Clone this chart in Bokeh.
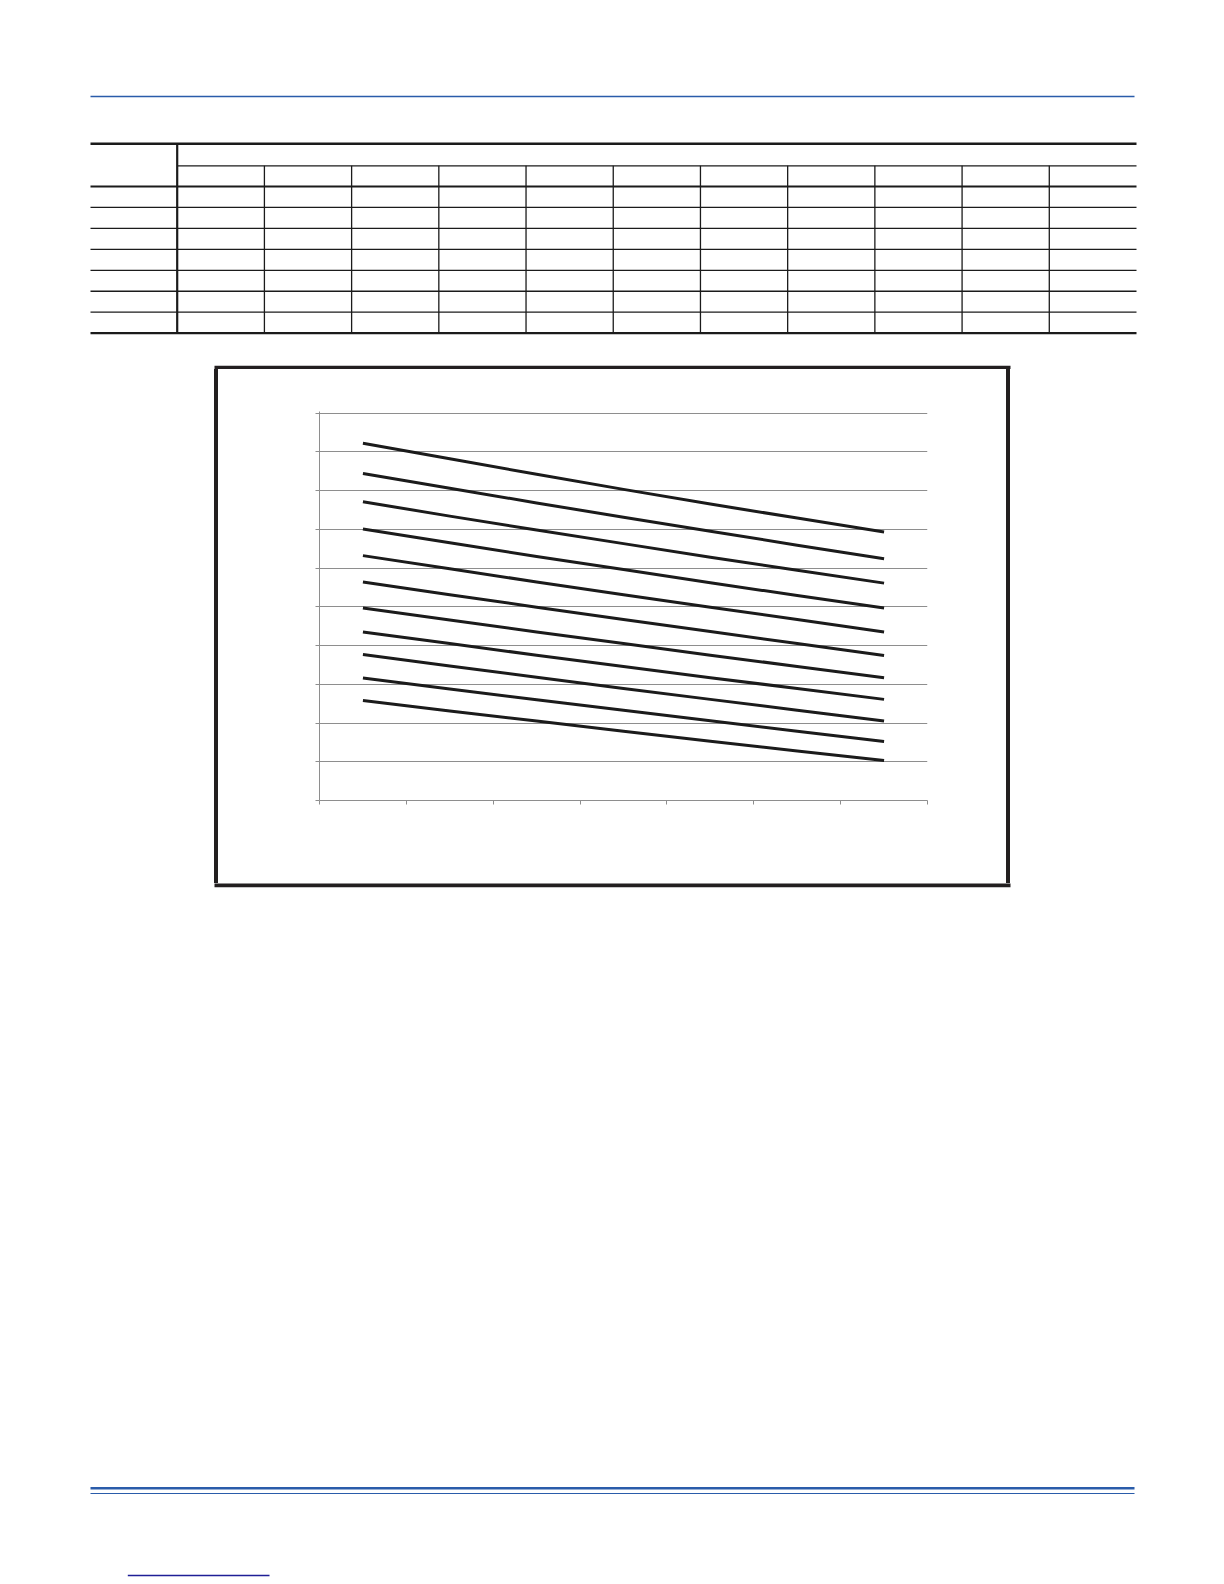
from bokeh.plotting import figure
from bokeh.layouts import column, row
from bokeh.models import Range1d, FixedTicker, Spacer, CustomJSTickFormatter
from bokeh.embed import file_html
from bokeh.resources import INLINE

# ---------------- data ----------------
categories = ["c1", "c2", "c3", "c4", "c5", "c6", "c7"]
y_ticks = [0.0, 0.1, 0.2, 0.3, 0.4, 0.5, 0.6, 0.7, 0.8, 0.9, 1.0]

curve_01 = [0.922, 0.882, 0.842, 0.803, 0.765, 0.729, 0.693]
curve_02 = [0.844, 0.806, 0.768, 0.731, 0.695, 0.659, 0.624]
curve_03 = [0.771, 0.734, 0.698, 0.663, 0.628, 0.594, 0.561]
curve_04 = [0.701, 0.665, 0.630, 0.596, 0.562, 0.529, 0.497]
curve_05 = [0.632, 0.598, 0.564, 0.531, 0.499, 0.467, 0.435]
curve_06 = [0.564, 0.531, 0.499, 0.467, 0.436, 0.405, 0.374]
curve_07 = [0.497, 0.466, 0.435, 0.405, 0.375, 0.346, 0.317]
curve_08 = [0.435, 0.405, 0.375, 0.346, 0.317, 0.289, 0.261]
curve_09 = [0.377, 0.347, 0.318, 0.289, 0.261, 0.233, 0.205]
curve_10 = [0.316, 0.288, 0.260, 0.233, 0.206, 0.179, 0.152]
curve_11 = [0.258, 0.231, 0.205, 0.179, 0.153, 0.128, 0.103]

curves = [curve_01, curve_02, curve_03, curve_04, curve_05, curve_06,
          curve_07, curve_08, curve_09, curve_10, curve_11]

# ---------------- helpers ----------------
BLACK = "#1b1b1b"
BLUE = "#2a5caa"
NAVY = "#1f1f96"
FRAME = "#231f20"
GRIDC = "#8e8e8e"
PAGE_W = 1224
PAGE_H = 1584


def page_fig(w, h):
    p = figure(width=w, height=h, x_range=Range1d(0, w), y_range=Range1d(h, 0),
               output_backend="svg", toolbar_location=None, min_border=0,
               x_axis_type=None, y_axis_type=None, outline_line_color=None,
               background_fill_color="white", border_fill_color="white")
    return p


def hline(p, oy, x0, x1, y, lw, color=BLACK):
    p.segment(x0=[x0], y0=[y - oy], x1=[x1], y1=[y - oy],
              line_width=lw, line_color=color, line_cap="butt")


def vline(p, oy, x, y0, y1, lw, color=BLACK):
    p.segment(x0=[x], y0=[y0 - oy], x1=[x], y1=[y1 - oy],
              line_width=lw, line_color=color, line_cap="butt")


def bar(p, oy, x0, x1, y0, y1, color=FRAME):
    p.quad(left=[x0], right=[x1], top=[y0 - oy], bottom=[y1 - oy],
           fill_color=color, line_color=None)


# ---------------- top part: header rule + empty table ----------------
TOP_H = 369
top = page_fig(PAGE_W, TOP_H)
hline(top, 0, 90, 1134, 96, 1.3, BLUE)

n_cols = len(curves)
n_rows = len(categories)
tbl_left, tbl_right = 90, 1136
first_col_right = 176.7
col_w = (tbl_right - first_col_right) / n_cols
y_top, y_sub, y_head = 143.3, 165.3, 186.0
row_h = 20.95
y_bottom = y_head + row_h * n_rows

hline(top, 0, tbl_left, tbl_right, y_top, 2.4)
hline(top, 0, first_col_right, tbl_right, y_sub, 1.3)
hline(top, 0, tbl_left, tbl_right, y_head, 2.2)
for r in range(1, n_rows):
    hline(top, 0, tbl_left, tbl_right, y_head + r * row_h, 1.3)
hline(top, 0, tbl_left, tbl_right, y_bottom, 2.4)
vline(top, 0, first_col_right, y_top, y_bottom, 2.2)
for c in range(1, n_cols):
    vline(top, 0, first_col_right + c * col_w, y_sub, y_bottom, 1.3)

# top border of chart box
bar(top, 0, 214, 1010, 365.3, 369.5)

# ---------------- middle row: box sides + chart ----------------
MID_H = 514
CHART_W = 788
chart = figure(width=CHART_W, height=MID_H,
               x_range=Range1d(0, len(categories)),
               y_range=Range1d(y_ticks[0], y_ticks[-1] + 0.004),
               output_backend="svg", toolbar_location=None,
               min_border_left=101, min_border_right=79,
               min_border_top=42, min_border_bottom=83,
               outline_line_color=None, background_fill_color="white",
               border_fill_color="white")

x_pos = [i + 0.5 for i in range(len(categories))]
for ys in curves:
    chart.line(x_pos, ys, line_width=3, line_color=BLACK, line_cap="butt",
               line_join="round")

blank = CustomJSTickFormatter(code="return '';")
chart.xaxis.ticker = FixedTicker(ticks=list(range(len(categories) + 1)))
chart.yaxis.ticker = FixedTicker(ticks=y_ticks)
for ax in (chart.xaxis[0], chart.yaxis[0]):
    ax.axis_line_color = GRIDC
    ax.axis_line_width = 1
    ax.major_tick_line_color = GRIDC
    ax.major_tick_out = 4
    ax.major_tick_in = 0
    ax.minor_tick_line_color = None
    ax.formatter = blank
    ax.major_label_standoff = 0
chart.xgrid.visible = False
chart.ygrid.grid_line_color = GRIDC
chart.ygrid.grid_line_width = 1

side_w = (PAGE_W - CHART_W - 8) // 2
left_pad = Spacer(width=214, height=MID_H)
left_bar = Spacer(width=4, height=MID_H, styles={"background-color": FRAME})
right_bar = Spacer(width=4, height=MID_H, styles={"background-color": FRAME})
right_pad = Spacer(width=PAGE_W - 214 - 4 - CHART_W - 4, height=MID_H)
middle = row(left_pad, left_bar, chart, right_bar, right_pad)

# ---------------- bottom part: box bottom + footer rules ----------------
BOT_H = PAGE_H - TOP_H - MID_H
OYB = TOP_H + MID_H
bottom = page_fig(PAGE_W, BOT_H)
bar(bottom, OYB, 214, 1010, 882.5, 886.7)
hline(bottom, OYB, 90, 1134, 1487.7, 2.4, BLUE)
hline(bottom, OYB, 90, 1134, 1493.0, 1.1, BLUE)
hline(bottom, OYB, 127.3, 269, 1575, 1.4, NAVY)

layout = column(top, middle, bottom)

open("out.html", "w").write(file_html(layout, INLINE))
